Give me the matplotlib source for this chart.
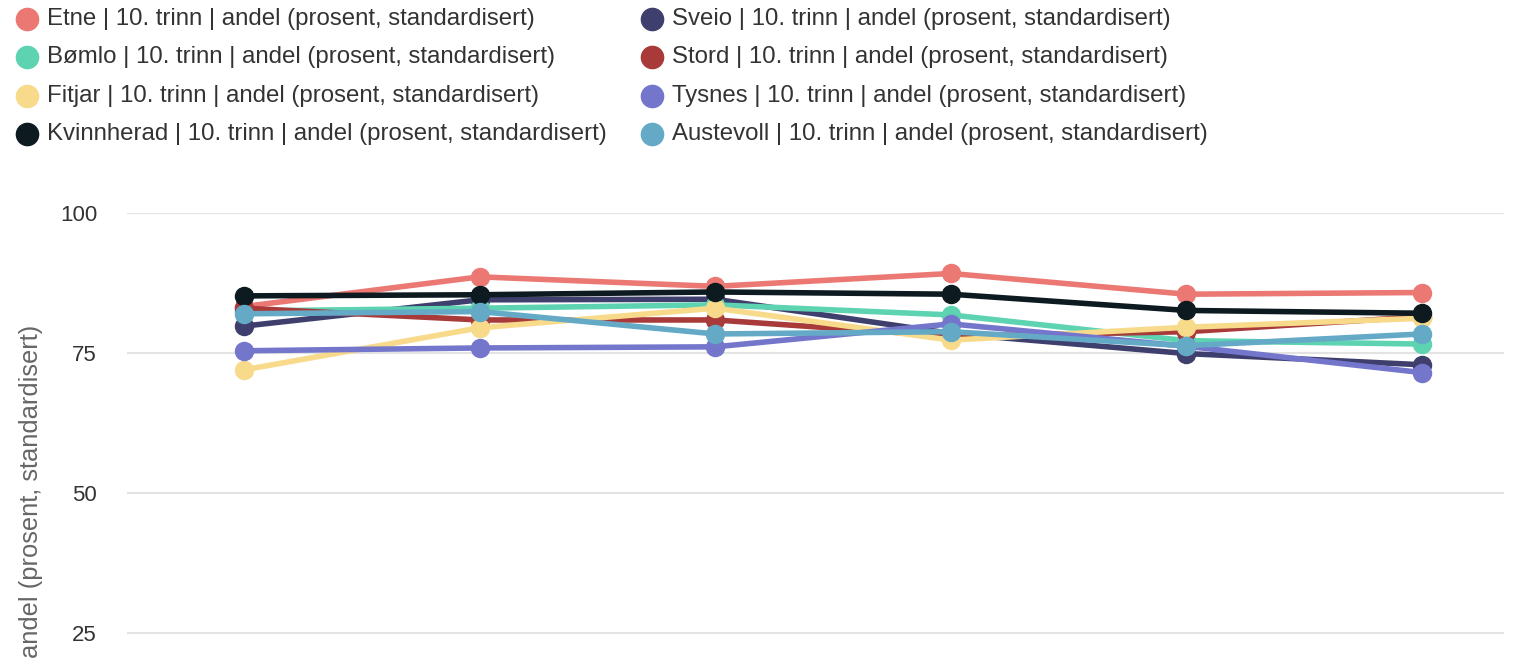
import matplotlib
matplotlib.use("Agg")
import matplotlib.pyplot as plt

plt.rcParams['font.family'] = ['Liberation Sans', 'DejaVu Sans']

x_points = [0, 1, 2, 3, 4, 5]
series_names = ["Etne", "Bømlo", "Fitjar", "Kvinnherad", "Sveio", "Stord", "Tysnes", "Austevoll"]
suffix = " | 10. trinn | andel (prosent, standardisert)"
y_label = "andel (prosent, standardisert)"

etne = [83.3, 88.6, 86.9, 89.2, 85.5, 85.8]
bomlo = [82.5, 83.0, 83.6, 81.8, 77.2, 76.6]
fitjar = [72.0, 79.5, 83.0, 77.3, 79.6, 81.2]
kvinnherad = [85.2, 85.4, 85.9, 85.5, 82.6, 82.1]
sveio = [79.8, 84.5, 84.6, 78.5, 74.9, 72.9]
stord = [83.0, 80.9, 80.9, 78.0, 78.8, 81.5]
tysnes = [75.4, 75.9, 76.1, 80.2, 76.2, 71.5]
austevoll = [82.0, 82.4, 78.4, 78.8, 76.3, 78.4]

colors = ["#EB7872", "#5DD3B2", "#F8DA8B", "#0D1A20", "#3F3F6E", "#A83A3A", "#7476CC", "#64AAC6"]
values = [etne, bomlo, fitjar, kvinnherad, sveio, stord, tysnes, austevoll]

yticks = [25, 50, 75, 100]

W, H = 1516, 658
fig = plt.figure(figsize=(W / 100, H / 100), dpi=100)

# axes geometry: grid from x=127 to 1504, y=100 at 213px, y=0 at 773px (below the visible figure)
left, right = 127, 1504
top, bottom = 213, 773
ax = fig.add_axes([left / W, 1 - bottom / H, (right - left) / W, (bottom - top) / H])
ax.set_ylim(0, 100)
ax.set_xlim(-0.497, 5.348)
ax.set_yticks(yticks)
ax.set_yticklabels([str(v) for v in yticks])
ax.set_xticks([])
for s in ax.spines.values():
    s.set_visible(False)
ax.grid(axis='y', color='#E3E3E3', linewidth=1.5)
ax.tick_params(axis='y', length=0, pad=21.6, labelsize=16, labelcolor='#333333')

fig.text(31 / W, 1 - 325 / H, y_label, rotation=90, ha='center', va='top',
         fontsize=18.4, color='#666666')

# drawing order (later on top)
order = [0, 4, 1, 5, 2, 6, 3, 7]
for k, i in enumerate(order):
    ax.plot(x_points, values[i], color=colors[i], linewidth=4, marker='o', markersize=13,
            zorder=3 + k, solid_capstyle='round', clip_on=False)

# legend drawn in pixel coordinates
lax = fig.add_axes([0, 0, 1, 1])
lax.set_xlim(0, W)
lax.set_ylim(H, 0)
lax.axis('off')
col_x = [27, 652]
row_y = [19, 57, 96, 134]
for i, (name, c) in enumerate(zip(series_names, colors)):
    col = i // 4
    row = i % 4
    lax.plot([col_x[col]], [row_y[row]], marker='o', markersize=16, color=c, linestyle='none')
    lax.text(col_x[col] + 20, row_y[row], name + suffix, fontsize=17.25, color='#333333',
             va='center', ha='left')

fig.savefig("out.png", dpi=100)
